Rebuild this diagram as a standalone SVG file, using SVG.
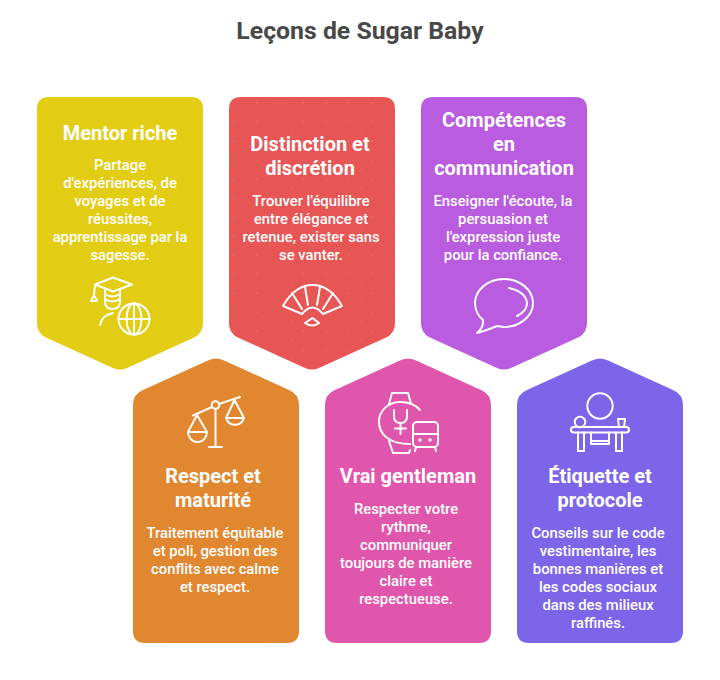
<svg xmlns="http://www.w3.org/2000/svg" width="720" height="680" viewBox="0 0 720 680">
<style>
text{font-family:Roboto,"Liberation Sans",sans-serif;text-anchor:middle;fill:#fff}
.t{font-size:24.800px;font-weight:700;fill:#484848}
.h{font-size:20px;font-weight:700}
.b{font-size:14.800px;font-weight:500}
.i{fill:none;stroke:#fff;stroke-width:2;stroke-linecap:round;stroke-linejoin:round}
</style>
<defs>
<path id="down" d="M12 0H154Q166 0 166 12V226Q166 237 156 241L90 271Q83 274 76 271L10 241Q0 237 0 226V12Q0 0 12 0Z"/>
<path id="up" d="M76 2Q83 -1 90 2L156 32Q166 36 166 47V273Q166 285 154 285H12Q0 285 0 273V47Q0 36 10 32Z"/>
<pattern id="dots" width="23" height="19" patternUnits="userSpaceOnUse"><circle cx="5" cy="6" r=".6" fill="#fff" opacity=".3"/><circle cx="17" cy="15" r=".6" fill="#fff" opacity=".22"/></pattern>
</defs>
<rect width="720" height="680" fill="#fff"/>
<text class="t" x="360" y="39">Leçons de Sugar Baby</text>

<g id="node-mentor">
<use href="#down" x="37" y="97" fill="#E2CC14"/>
<text class="h" x="120" y="139.500">Mentor riche</text>
<text class="b"><tspan x="120" y="170">Partage</tspan><tspan x="120" y="188">d'expériences, de</tspan><tspan x="120" y="206">voyages et de</tspan><tspan x="120" y="224">réussites,</tspan><tspan x="120" y="242">apprentissage par la</tspan><tspan x="120" y="260">sagesse.</tspan></text>
<g class="i">
<path d="M113 277.500L132 284.500L113 291.500L95 284.500Z"/>
<path d="M95 285L94 295M94 295L91 301H97Z"/>
<path d="M105 289V301Q105 309 112.500 309Q120 309 120 301V289M105 294Q112.500 299 120 294M105 299Q112.500 304 120 299"/>
<path d="M100 325Q102 315 113 313"/>
<circle cx="134" cy="319" r="15.500"/>
<ellipse cx="134" cy="319" rx="7.500" ry="15.500"/>
<path d="M118.500 319H149.500M134 303.500V334.500"/>
</g>
</g>

<g id="node-distinction">
<use href="#down" x="229" y="97" fill="#E85555"/>
<use href="#down" x="229" y="97" fill="url(#dots)"/>
<text class="h"><tspan x="310" y="151">Distinction et</tspan><tspan x="310" y="175">discrétion</tspan></text>
<text class="b"><tspan x="311" y="206">Trouver l'équilibre</tspan><tspan x="311" y="224">entre élégance et</tspan><tspan x="311" y="242">retenue, exister sans</tspan><tspan x="311" y="260">se vanter.</tspan></text>
<g class="i">
<path d="M283 306C291 292 300 285 312.500 285C325 285 334 292 342 306L323 314Q312.500 301 302 314Z"/>
<path d="M292 293L302 309M305 287L308 305M320 287L317 305M333 293L323 309"/>
<path d="M312.500 318L305 323Q312.500 328 319 323Z"/>
</g>
</g>

<g id="node-competences">
<use href="#down" x="421" y="97" fill="#B95CE0"/>
<text class="h"><tspan x="504" y="127">Compétences</tspan><tspan x="504" y="151">en</tspan><tspan x="504" y="175">communication</tspan></text>
<text class="b"><tspan x="503" y="206">Enseigner l'écoute, la</tspan><tspan x="503" y="224">persuasion et</tspan><tspan x="503" y="242">l'expression juste</tspan><tspan x="503" y="260">pour la confiance.</tspan></text>
<g class="i">
<path d="M477 333Q484 327 483 320C478 316 475 309 475 303C475 290 488 279 504 279C520 279 533 290 533 303C533 316 520 327 504 327C502 327 499 326 497 326Q488 330 477 333Z"/>
<path d="M509 288Q526 292 527 303Q527 311 517 316"/>
</g>
</g>

<g id="node-respect">
<use href="#up" x="133" y="358" fill="#E0872F"/>
<text class="h"><tspan x="213" y="483">Respect et</tspan><tspan x="213" y="507">maturité</tspan></text>
<text class="b"><tspan x="215" y="538">Traitement équitable</tspan><tspan x="215" y="556">et poli, gestion des</tspan><tspan x="215" y="574">conflits avec calme</tspan><tspan x="215" y="592">et respect.</tspan></text>
<g class="i">
<path d="M193 415.500L212 407M219 404L240 397"/>
<circle cx="215.500" cy="405" r="3.800"/>
<path d="M215.500 409V447M209 447H222"/>
<path d="M197 415L188 432A9.500 10 0 0 0 207 432ZM188 432H207"/>
<path d="M234.500 400L226 418A9.500 10 0 0 0 244 418ZM226 418H244"/>
</g>
</g>

<g id="node-gentleman">
<use href="#up" x="325" y="358" fill="#E056AC"/>
<text class="h" x="408" y="483">Vrai gentleman</text>
<text class="b"><tspan x="406" y="514">Respecter votre</tspan><tspan x="406" y="532">rythme,</tspan><tspan x="406" y="550">communiquer</tspan><tspan x="406" y="568">toujours de manière</tspan><tspan x="406" y="586">claire et</tspan><tspan x="406" y="604">respectueuse.</tspan></text>
<g class="i">
<path d="M420 410C415 404 408 402 400 402C388 402 379 411 379 422C379 434 389 444 410 444"/>
<path d="M389 404L392 393H408L411 404M389 441L393 453H409L410 450"/>
<path d="M394 410V416Q394 423 400.500 423Q407 423 407 416V410M400.500 423V434M395 428.500H406"/>
<rect x="413" y="422" width="25" height="25" rx="4"/>
<path d="M413 434H438M416 447L415 451M435 447L436 451"/>
<circle cx="420" cy="440" r=".7"/><circle cx="430" cy="440" r=".7"/>
</g>
</g>

<g id="node-etiquette">
<use href="#up" x="517" y="358" fill="#7D65EA"/>
<text class="h"><tspan x="600" y="483">Étiquette et</tspan><tspan x="600" y="507">protocole</tspan></text>
<text class="b"><tspan x="598" y="538">Conseils sur le code</tspan><tspan x="598" y="556">vestimentaire, les</tspan><tspan x="598" y="574">bonnes manières et</tspan><tspan x="598" y="592">les codes sociaux</tspan><tspan x="598" y="610">dans des milieux</tspan><tspan x="598" y="628">raffinés.</tspan></text>
<g class="i">
<circle cx="600" cy="406" r="12.700"/>
<circle cx="580" cy="422" r="5.300"/>
<path d="M618 419H625L624 427H619Z"/>
<rect x="571" y="427" width="58" height="5.500" rx="2.700"/>
<path d="M578 432.500V451H584V432.500M616 432.500V451H622V432.500M591 432.500V444H609V432.500M591 441H609"/>
</g>
</g>
<g id="connectors"></g>
</svg>
